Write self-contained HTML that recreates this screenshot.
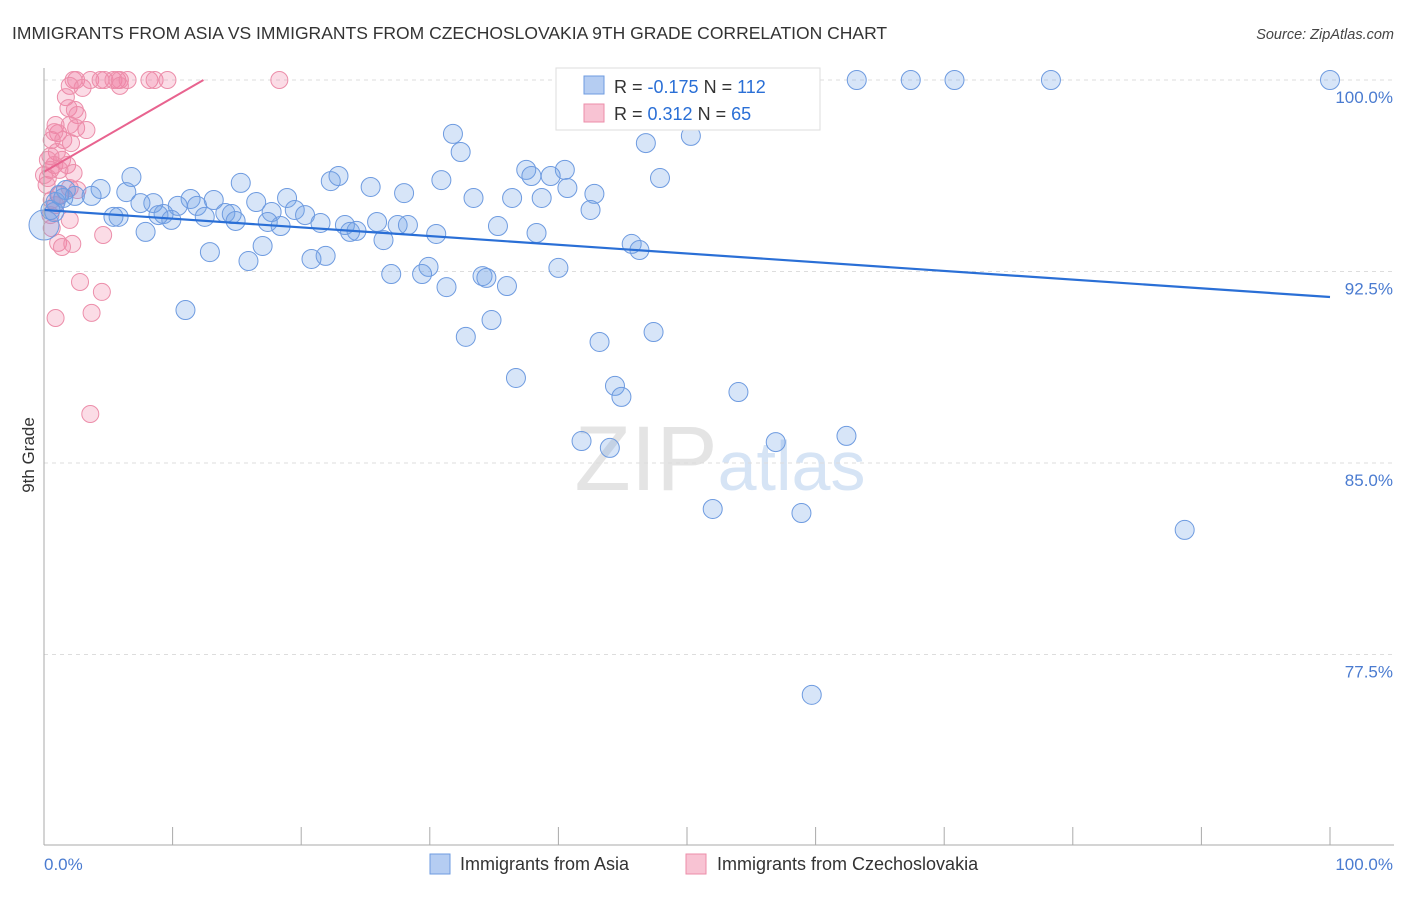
<!DOCTYPE html>
<html><head><meta charset="utf-8"><style>
body{margin:0;background:#fff;font-family:"Liberation Sans",sans-serif;}
svg text{font-family:"Liberation Sans",sans-serif;}
</style></head><body>
<svg id="chart" width="1406" height="892" xmlns="http://www.w3.org/2000/svg">
<text x="12" y="39" font-size="17.5" fill="#333">IMMIGRANTS FROM ASIA VS IMMIGRANTS FROM CZECHOSLOVAKIA 9TH GRADE CORRELATION CHART</text>
<text x="1394" y="39" font-size="14.5" fill="#444" font-style="italic" text-anchor="end">Source: ZipAtlas.com</text>
<text x="720" y="490" font-size="92" text-anchor="middle" fill="#e4e4e4" font-family="Liberation Serif">ZIP<tspan fill="#d6e4f5" font-family="Liberation Sans" font-size="70">atlas</tspan></text>
<text transform="translate(34,455) rotate(-90)" font-size="17" fill="#333" text-anchor="middle">9th Grade</text>
<g id="grid"></g><g id="pts"></g><g id="lines"></g>
<line x1="44" y1="68" x2="44" y2="845" stroke="#aaa"/>
<line x1="44" y1="845" x2="1394" y2="845" stroke="#aaa"/>
<text x="44" y="870" font-size="17" fill="#4a7bd0">0.0%</text>
<text x="1393" y="870" font-size="17" fill="#4a7bd0" text-anchor="end">100.0%</text>
<g>
<rect x="556" y="68" width="264" height="62" fill="#fff" stroke="#ddd"/>
<rect x="584" y="76" width="20" height="18" fill="#b5cdf2" stroke="#6e9be0"/>
<rect x="584" y="104" width="20" height="18" fill="#f8c3d3" stroke="#ec8eaa"/>
<text x="614" y="93" font-size="18" fill="#333">R = <tspan fill="#2a6fd6">-0.175</tspan>   N = <tspan fill="#2a6fd6">112</tspan></text>
<text x="614" y="120" font-size="18" fill="#333">R =  <tspan fill="#2a6fd6">0.312</tspan>   N =  <tspan fill="#2a6fd6">65</tspan></text>
</g>
<g>
<rect x="430" y="854" width="20" height="20" fill="#b5cdf2" stroke="#6e9be0"/>
<text x="460" y="870" font-size="18" fill="#333">Immigrants from Asia</text>
<rect x="686" y="854" width="20" height="20" fill="#f8c3d3" stroke="#ec8eaa"/>
<text x="717" y="870" font-size="18" fill="#333">Immigrants from Czechoslovakia</text>
</g>
</svg>
<script>
const yTicks=[100,92.5,85,77.5];
const yTickLabels=["100.0%","92.5%","85.0%","77.5%"];
const xTicks=[0,10,20,30,40,50,60,70,80,90,100];
const asiaX=[100,78.3,70.8,67.4,63.2,53.1,53.4,52.3,45.3,46.8,50.3,31.8,32.4,6.8,15.3,22.3,22.9,25.4,30.9,37.5,37.9,40.5,39.4,40.7,42.8,47.9,28.0,33.4,36.4,38.7,18.9,16.5,13.2,11.4,6.4,4.4,1.7,3.7,2.4,0.9,1.5,0.8,8.5,7.5,10.4,11.9,19.5,20.3,17.7,14.1,14.6,9.3,8.9,5.8,5.4,9.9,12.5,14.9,17.4,18.4,21.5,23.4,25.9,27.5,28.3,24.3,23.8,26.4,30.5,35.3,38.3,42.5,17.0,12.9,15.9,20.8,21.9,45.7,46.3,40.0,29.9,27.0,29.4,34.1,34.4,36.0,31.3,11.0,34.8,32.8,47.4,43.2,36.7,44.4,44.9,54.0,41.8,44.0,56.9,62.4,52.0,58.9,88.7,59.7,7.9,0,0.5,1.2];
const asiaY=[100,100,100,100,100,100,100,98.83,98.71,97.53,97.81,97.89,97.18,96.20,95.97,96.04,96.24,95.81,96.08,96.48,96.24,96.48,96.24,95.77,95.54,96.16,95.57,95.38,95.38,95.38,95.38,95.22,95.30,95.34,95.61,95.73,95.69,95.46,95.46,95.22,95.38,94.83,95.18,95.18,95.07,95.07,94.91,94.71,94.83,94.79,94.75,94.75,94.71,94.64,94.64,94.52,94.64,94.48,94.44,94.28,94.40,94.32,94.44,94.32,94.32,94.09,94.05,93.73,93.97,94.28,94.01,94.91,93.50,93.26,92.91,92.99,93.11,93.58,93.34,92.64,92.68,92.40,92.40,92.32,92.25,91.93,91.89,90.99,90.60,89.94,90.13,89.74,88.33,88.02,87.59,87.78,85.86,85.59,85.82,86.06,83.20,83.04,82.38,75.92,94.05,94.32,94.91,95.50];
const czX=[2.3,2.5,3.6,4.4,4.7,5.4,5.7,5.9,6.5,8.2,8.6,9.6,18.3,5.9,3.0,2.0,1.7,1.9,2.4,2.6,0.9,2.0,2.5,3.3,1.1,0.6,1.5,2.1,1.0,0.5,1.4,1.8,0.8,0.5,1.2,2.3,0.3,0.2,2.0,2.6,1.2,0.9,0.5,2.0,0.6,1.1,2.2,1.4,4.6,2.8,4.5,0.9,3.7,3.6,0.6,0.3,0.8,0];
const czY=[100,100,100,100,100,100,100,100,100,100,100,100,100,99.77,99.69,99.77,99.33,98.90,98.83,98.63,98.24,98.24,98.12,98.04,97.92,97.65,97.65,97.53,97.18,97.02,96.87,96.67,96.67,96.48,96.48,96.36,96.16,95.89,95.77,95.69,95.50,95.10,94.71,94.52,94.20,93.62,93.58,93.46,93.93,92.09,91.70,90.68,90.88,86.92,95.30,96.87,97.96,96.28];
const asiaTrendX=[0,100];
const asiaTrendY=[94.91,91.5];
const czTrendX=[0,12.4];
const czTrendY=[96.4,100];
const NS="http://www.w3.org/2000/svg";
const xs=v=>44+v/100*1286;
const ys=v=>80+(100-v)/7.5*191.5;
function mk(t,a,p){const e=document.createElementNS(NS,t);for(const k in a)e.setAttribute(k,a[k]);p.appendChild(e);return e;}
const grid=document.getElementById('grid');
yTicks.forEach((v,i)=>{
 const l=mk('line',{x1:44,x2:1394,y1:ys(v),y2:ys(v),stroke:'#ddd','stroke-dasharray':'4,4'},grid);
 
 
 const t=mk('text',{x:1393,y:ys(v)+23,'font-size':17,fill:'#4a7bd0','text-anchor':'end'},grid);
 t.textContent=yTickLabels[i];
 
 
});
xTicks.forEach(v=>{
 const l=mk('line',{x1:xs(v),x2:xs(v),y1:827,y2:845,stroke:'#aaa'},grid);
 
 
});
const pts=document.getElementById('pts');
czX.forEach((x,i)=>{
 const c=mk('circle',{cx:xs(x),cy:ys(czY[i]),r:8.5,fill:'rgba(240,130,165,0.28)',stroke:'#ec8eaa','stroke-width':1},pts);
 
 
});
asiaX.forEach((x,i)=>{
 const c=mk('circle',{cx:xs(x),cy:ys(asiaY[i]),r:(i==asiaX.length-3?15:9.5),fill:'rgba(110,160,230,0.28)',stroke:'#6e9be0','stroke-width':1},pts);
 
 
});
const lines=document.getElementById('lines');
const bl=mk('line',{x1:xs(asiaTrendX[0]),y1:ys(asiaTrendY[0]),x2:xs(asiaTrendX[1]),y2:ys(asiaTrendY[1]),stroke:'#2a6fd6','stroke-width':2.2},lines);


const pl=mk('line',{x1:xs(czTrendX[0]),y1:ys(czTrendY[0]),x2:xs(czTrendX[1]),y2:ys(czTrendY[1]),stroke:'#e8638f','stroke-width':2},lines);


</script>
</body></html>
